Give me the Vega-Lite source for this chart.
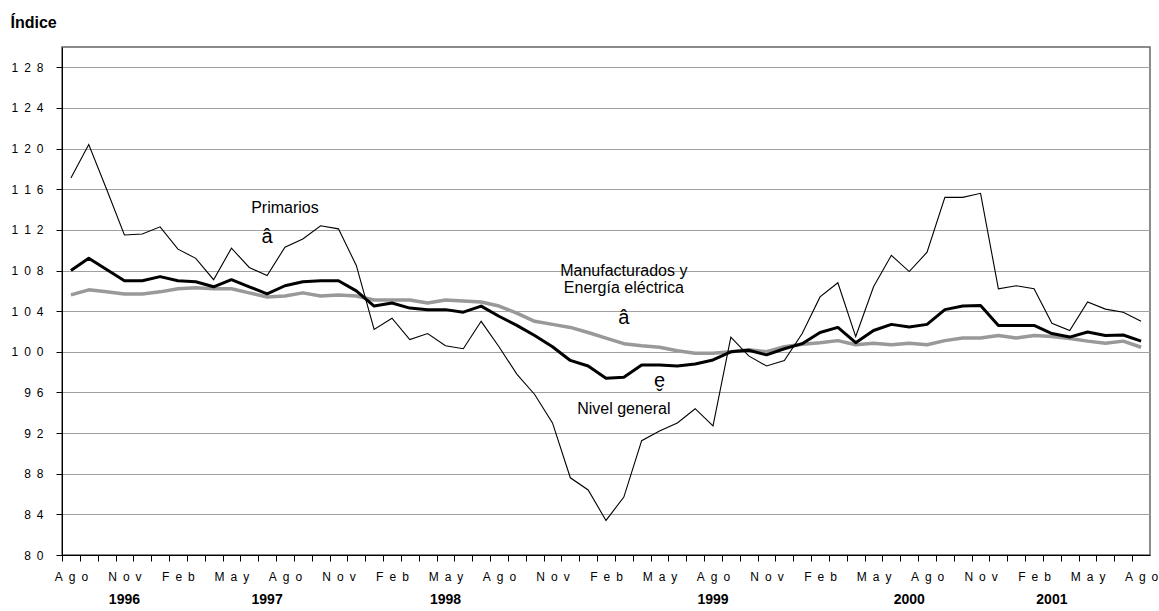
{
  "$schema": "https://vega.github.io/schema/vega-lite/v6.json",
  "width": 1088,
  "height": 508,
  "autosize": {"type": "none"},
  "padding": {"left": 62, "top": 47, "right": 9, "bottom": 56},
  "config": {
    "font": "Liberation Sans",
    "view": {"stroke": "#666666", "strokeWidth": 1.5},
    "axis": {"labelColor": "#000000", "titleColor": "#000000", "domainColor": "#000000", "tickColor": "#000000"}
  },
  "datasets": {
    "serie": [
      {"fecha": "1996-08", "Primarios": 117.1, "Nivel": 108.0, "Manufacturados": 105.6},
      {"fecha": "1996-09", "Primarios": 120.4, "Nivel": 109.2, "Manufacturados": 106.1},
      {"fecha": "1996-10", "Primarios": 116.0, "Nivel": 108.1, "Manufacturados": 105.9},
      {"fecha": "1996-11", "Primarios": 111.5, "Nivel": 107.0, "Manufacturados": 105.7},
      {"fecha": "1996-12", "Primarios": 111.6, "Nivel": 107.0, "Manufacturados": 105.7},
      {"fecha": "1997-01", "Primarios": 112.3, "Nivel": 107.4, "Manufacturados": 105.9},
      {"fecha": "1997-02", "Primarios": 110.1, "Nivel": 107.0, "Manufacturados": 106.2},
      {"fecha": "1997-03", "Primarios": 109.2, "Nivel": 106.9, "Manufacturados": 106.3},
      {"fecha": "1997-04", "Primarios": 107.1, "Nivel": 106.4, "Manufacturados": 106.2},
      {"fecha": "1997-05", "Primarios": 110.2, "Nivel": 107.1, "Manufacturados": 106.2},
      {"fecha": "1997-06", "Primarios": 108.3, "Nivel": 106.4, "Manufacturados": 105.8},
      {"fecha": "1997-07", "Primarios": 107.5, "Nivel": 105.7, "Manufacturados": 105.4},
      {"fecha": "1997-08", "Primarios": 110.3, "Nivel": 106.5, "Manufacturados": 105.5},
      {"fecha": "1997-09", "Primarios": 111.1, "Nivel": 106.9, "Manufacturados": 105.8},
      {"fecha": "1997-10", "Primarios": 112.4, "Nivel": 107.0, "Manufacturados": 105.5},
      {"fecha": "1997-11", "Primarios": 112.1, "Nivel": 107.0, "Manufacturados": 105.6},
      {"fecha": "1997-12", "Primarios": 108.5, "Nivel": 106.0, "Manufacturados": 105.5},
      {"fecha": "1998-01", "Primarios": 102.2, "Nivel": 104.5, "Manufacturados": 105.1},
      {"fecha": "1998-02", "Primarios": 103.3, "Nivel": 104.8, "Manufacturados": 105.1},
      {"fecha": "1998-03", "Primarios": 101.2, "Nivel": 104.3, "Manufacturados": 105.1},
      {"fecha": "1998-04", "Primarios": 101.8, "Nivel": 104.15, "Manufacturados": 104.8},
      {"fecha": "1998-05", "Primarios": 100.6, "Nivel": 104.15, "Manufacturados": 105.1},
      {"fecha": "1998-06", "Primarios": 100.3, "Nivel": 103.9, "Manufacturados": 105.0},
      {"fecha": "1998-07", "Primarios": 103.0, "Nivel": 104.5, "Manufacturados": 104.9},
      {"fecha": "1998-08", "Primarios": 100.5, "Nivel": 103.5, "Manufacturados": 104.5},
      {"fecha": "1998-09", "Primarios": 97.8, "Nivel": 102.6, "Manufacturados": 103.8},
      {"fecha": "1998-10", "Primarios": 95.8, "Nivel": 101.6, "Manufacturados": 103.0},
      {"fecha": "1998-11", "Primarios": 93.0, "Nivel": 100.5, "Manufacturados": 102.7},
      {"fecha": "1998-12", "Primarios": 87.6, "Nivel": 99.15, "Manufacturados": 102.4},
      {"fecha": "1999-01", "Primarios": 86.4, "Nivel": 98.6, "Manufacturados": 101.9},
      {"fecha": "1999-02", "Primarios": 83.4, "Nivel": 97.4, "Manufacturados": 101.35},
      {"fecha": "1999-03", "Primarios": 85.7, "Nivel": 97.5, "Manufacturados": 100.8},
      {"fecha": "1999-04", "Primarios": 91.25, "Nivel": 98.7, "Manufacturados": 100.6},
      {"fecha": "1999-05", "Primarios": 92.2, "Nivel": 98.7, "Manufacturados": 100.45},
      {"fecha": "1999-06", "Primarios": 93.0, "Nivel": 98.6, "Manufacturados": 100.1},
      {"fecha": "1999-07", "Primarios": 94.4, "Nivel": 98.8, "Manufacturados": 99.85},
      {"fecha": "1999-08", "Primarios": 92.7, "Nivel": 99.2, "Manufacturados": 99.85},
      {"fecha": "1999-09", "Primarios": 101.45, "Nivel": 100.0, "Manufacturados": 100.0},
      {"fecha": "1999-10", "Primarios": 99.6, "Nivel": 100.15, "Manufacturados": 100.2},
      {"fecha": "1999-11", "Primarios": 98.6, "Nivel": 99.7, "Manufacturados": 100.0},
      {"fecha": "1999-12", "Primarios": 99.15, "Nivel": 100.3, "Manufacturados": 100.5},
      {"fecha": "2000-01", "Primarios": 101.8, "Nivel": 100.8, "Manufacturados": 100.75},
      {"fecha": "2000-02", "Primarios": 105.4, "Nivel": 101.9, "Manufacturados": 100.9},
      {"fecha": "2000-03", "Primarios": 106.8, "Nivel": 102.4, "Manufacturados": 101.1},
      {"fecha": "2000-04", "Primarios": 101.5, "Nivel": 100.9, "Manufacturados": 100.7},
      {"fecha": "2000-05", "Primarios": 106.4, "Nivel": 102.1, "Manufacturados": 100.85},
      {"fecha": "2000-06", "Primarios": 109.5, "Nivel": 102.7, "Manufacturados": 100.7},
      {"fecha": "2000-07", "Primarios": 107.9, "Nivel": 102.45, "Manufacturados": 100.85},
      {"fecha": "2000-08", "Primarios": 109.8, "Nivel": 102.7, "Manufacturados": 100.7},
      {"fecha": "2000-09", "Primarios": 115.2, "Nivel": 104.15, "Manufacturados": 101.1},
      {"fecha": "2000-10", "Primarios": 115.2, "Nivel": 104.5, "Manufacturados": 101.35},
      {"fecha": "2000-11", "Primarios": 115.6, "Nivel": 104.55, "Manufacturados": 101.35},
      {"fecha": "2000-12", "Primarios": 106.2, "Nivel": 102.6, "Manufacturados": 101.6},
      {"fecha": "2001-01", "Primarios": 106.5, "Nivel": 102.6, "Manufacturados": 101.35},
      {"fecha": "2001-02", "Primarios": 106.2, "Nivel": 102.6, "Manufacturados": 101.6},
      {"fecha": "2001-03", "Primarios": 102.8, "Nivel": 101.8, "Manufacturados": 101.5},
      {"fecha": "2001-04", "Primarios": 102.1, "Nivel": 101.45, "Manufacturados": 101.3},
      {"fecha": "2001-05", "Primarios": 104.9, "Nivel": 101.95, "Manufacturados": 101.05},
      {"fecha": "2001-06", "Primarios": 104.2, "Nivel": 101.6, "Manufacturados": 100.85},
      {"fecha": "2001-07", "Primarios": 103.9, "Nivel": 101.65, "Manufacturados": 101.05},
      {"fecha": "2001-08", "Primarios": 103.0, "Nivel": 101.05, "Manufacturados": 100.45}
    ],
    "notas": [
      {"fecha": "1997-08", "valor": 114.2, "texto": "Primarios"},
      {"fecha": "1999-03", "valor": 108.0, "texto": "Manufacturados y"},
      {"fecha": "1999-03", "valor": 106.25, "texto": "Energía eléctrica"},
      {"fecha": "1999-03", "valor": 94.35, "texto": "Nivel general"}
    ],
    "flechas": [
      {"fecha": "1997-07", "valor": 111.3, "texto": "â"},
      {"fecha": "1999-03", "valor": 103.36, "texto": "â"},
      {"fecha": "1999-05", "valor": 97.1, "texto": "e̬"}
    ],
    "anios": [
      {"fecha": "1996-11", "valor": 75.6, "texto": "1996"},
      {"fecha": "1997-07", "valor": 75.6, "texto": "1997"},
      {"fecha": "1998-05", "valor": 75.6, "texto": "1998"},
      {"fecha": "1999-08", "valor": 75.6, "texto": "1999"},
      {"fecha": "2000-07", "valor": 75.6, "texto": "2000"},
      {"fecha": "2001-03", "valor": 75.6, "texto": "2001"}
    ]
  },
  "layer": [
    {
      "data": {"name": "serie"},
      "mark": {"type": "line", "color": "#999999", "strokeWidth": 3.5, "strokeJoin": "round"},
      "encoding": {
        "x": {
          "field": "fecha", "type": "ordinal",
          "scale": {"type": "point", "padding": 0.5},
          "axis": {
            "orient": "bottom", "title": null, "tickSize": 6, "tickOffset": -8.918, "labelOffset": 8.918,
            "labelPadding": 10, "labelFontSize": 12, "labelAngle": 0,
            "labelOverlap": false, "labelBound": false, "labelFlush": false, "grid": false,
            "labelExpr": "slice(datum.value,5,7)=='08' ? 'A\u2002g\u2002o' : slice(datum.value,5,7)=='11' ? 'N\u2002o\u2002v' : slice(datum.value,5,7)=='02' ? 'F\u2002e\u2002b' : slice(datum.value,5,7)=='05' ? 'M\u2002a\u2002y' : ''"
          }
        },
        "y": {
          "field": "Manufacturados", "type": "quantitative",
          "scale": {"domain": [80, 130], "nice": false, "zero": false},
          "axis": {
            "values": [80, 84, 88, 92, 96, 100, 104, 108, 112, 116, 120, 124, 128],
            "grid": true, "gridColor": "#a0a0a0", "gridWidth": 1,
            "tickSize": 6, "labelPadding": 13, "labelFontSize": 12,
            "labelExpr": "datum.value >= 100 ? slice(datum.label,0,1)+'\u2002'+slice(datum.label,1,2)+'\u2002'+slice(datum.label,2,3) : slice(datum.label,0,1)+'\u2002'+slice(datum.label,1,2)",
            "title": "Índice", "titleAngle": 0, "titleX": -52, "titleY": -20,
            "titleAlign": "left", "titleBaseline": "alphabetic",
            "titleFontSize": 16, "titleFontWeight": "bold"
          }
        }
      }
    },
    {
      "data": {"name": "serie"},
      "mark": {"type": "line", "color": "#000000", "strokeWidth": 3, "strokeJoin": "round"},
      "encoding": {
        "x": {"field": "fecha", "type": "ordinal"},
        "y": {"field": "Nivel", "type": "quantitative"}
      }
    },
    {
      "data": {"name": "serie"},
      "mark": {"type": "line", "color": "#000000", "strokeWidth": 1.1},
      "encoding": {
        "x": {"field": "fecha", "type": "ordinal"},
        "y": {"field": "Primarios", "type": "quantitative"}
      }
    },
    {
      "data": {"name": "notas"},
      "mark": {"type": "text", "fontSize": 16, "color": "#000000", "align": "center", "baseline": "middle"},
      "encoding": {
        "x": {"field": "fecha", "type": "ordinal"},
        "y": {"field": "valor", "type": "quantitative"},
        "text": {"field": "texto"}
      }
    },
    {
      "data": {"name": "flechas"},
      "mark": {"type": "text", "fontSize": 20, "color": "#000000", "align": "center", "baseline": "middle"},
      "encoding": {
        "x": {"field": "fecha", "type": "ordinal"},
        "y": {"field": "valor", "type": "quantitative"},
        "text": {"field": "texto"}
      }
    },
    {
      "data": {"name": "anios"},
      "mark": {"type": "text", "fontSize": 14, "fontWeight": "bold", "color": "#000000", "align": "center", "baseline": "middle", "clip": false},
      "encoding": {
        "x": {"field": "fecha", "type": "ordinal"},
        "y": {"field": "valor", "type": "quantitative"},
        "text": {"field": "texto"}
      }
    }
  ]
}
